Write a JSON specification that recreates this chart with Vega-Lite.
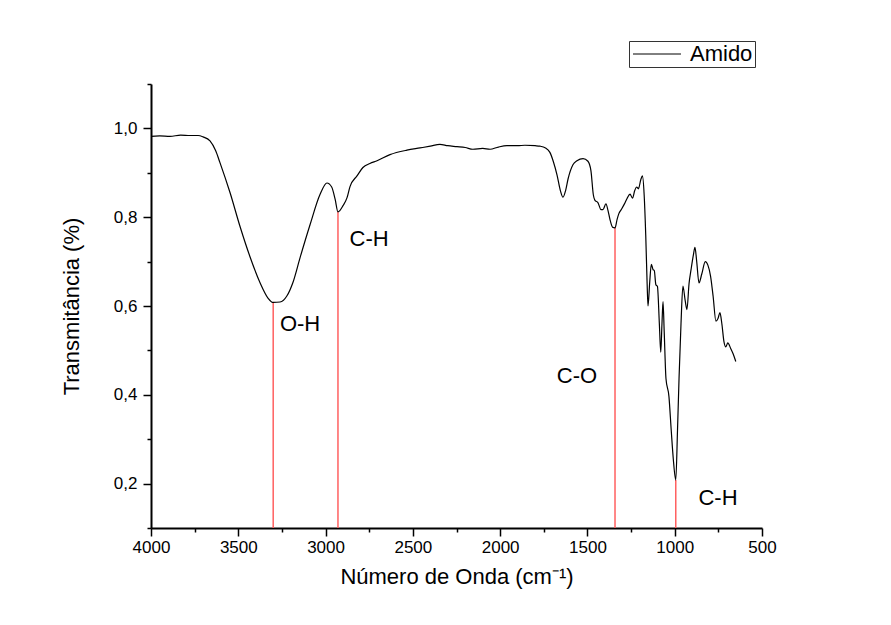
{
  "$schema": "https://vega.github.io/schema/vega-lite/v6.json",
  "width": 611,
  "height": 444,
  "autosize": {"type": "none"},
  "padding": {"left": 151, "top": 84, "right": 129, "bottom": 97},
  "background": "white",
  "config": {
    "view": {"stroke": null},
    "font": "Liberation Sans",
    "axis": {
      "domainColor": "black",
      "domainWidth": 2,
      "tickColor": "black",
      "tickWidth": 1.5,
      "grid": false,
      "labelFont": "Liberation Sans",
      "labelFontSize": 17,
      "labelColor": "black",
      "titleFont": "Liberation Sans",
      "titleFontSize": 22,
      "titleFontWeight": "normal",
      "titleColor": "black"
    }
  },
  "datasets": {
    "spectrum": [
      {"wn": 4000, "t": 0.982, "s": "Amido"},
      {"wn": 3950, "t": 0.983, "s": "Amido"},
      {"wn": 3891, "t": 0.982, "s": "Amido"},
      {"wn": 3830, "t": 0.985, "s": "Amido"},
      {"wn": 3777, "t": 0.984, "s": "Amido"},
      {"wn": 3730, "t": 0.984, "s": "Amido"},
      {"wn": 3702, "t": 0.981, "s": "Amido"},
      {"wn": 3662, "t": 0.972, "s": "Amido"},
      {"wn": 3630, "t": 0.950, "s": "Amido"},
      {"wn": 3605, "t": 0.923, "s": "Amido"},
      {"wn": 3547, "t": 0.855, "s": "Amido"},
      {"wn": 3490, "t": 0.779, "s": "Amido"},
      {"wn": 3433, "t": 0.711, "s": "Amido"},
      {"wn": 3376, "t": 0.653, "s": "Amido"},
      {"wn": 3330, "t": 0.618, "s": "Amido"},
      {"wn": 3300, "t": 0.608, "s": "Amido"},
      {"wn": 3261, "t": 0.609, "s": "Amido"},
      {"wn": 3221, "t": 0.623, "s": "Amido"},
      {"wn": 3187, "t": 0.653, "s": "Amido"},
      {"wn": 3146, "t": 0.709, "s": "Amido"},
      {"wn": 3089, "t": 0.783, "s": "Amido"},
      {"wn": 3032, "t": 0.851, "s": "Amido"},
      {"wn": 2992, "t": 0.877, "s": "Amido"},
      {"wn": 2965, "t": 0.868, "s": "Amido"},
      {"wn": 2945, "t": 0.840, "s": "Amido"},
      {"wn": 2929, "t": 0.812, "s": "Amido"},
      {"wn": 2900, "t": 0.826, "s": "Amido"},
      {"wn": 2877, "t": 0.844, "s": "Amido"},
      {"wn": 2860, "t": 0.869, "s": "Amido"},
      {"wn": 2820, "t": 0.893, "s": "Amido"},
      {"wn": 2786, "t": 0.912, "s": "Amido"},
      {"wn": 2746, "t": 0.921, "s": "Amido"},
      {"wn": 2705, "t": 0.927, "s": "Amido"},
      {"wn": 2631, "t": 0.941, "s": "Amido"},
      {"wn": 2534, "t": 0.951, "s": "Amido"},
      {"wn": 2459, "t": 0.956, "s": "Amido"},
      {"wn": 2400, "t": 0.960, "s": "Amido"},
      {"wn": 2345, "t": 0.964, "s": "Amido"},
      {"wn": 2300, "t": 0.961, "s": "Amido"},
      {"wn": 2247, "t": 0.959, "s": "Amido"},
      {"wn": 2200, "t": 0.957, "s": "Amido"},
      {"wn": 2156, "t": 0.953, "s": "Amido"},
      {"wn": 2100, "t": 0.955, "s": "Amido"},
      {"wn": 2058, "t": 0.953, "s": "Amido"},
      {"wn": 2010, "t": 0.958, "s": "Amido"},
      {"wn": 1961, "t": 0.961, "s": "Amido"},
      {"wn": 1900, "t": 0.961, "s": "Amido"},
      {"wn": 1858, "t": 0.962, "s": "Amido"},
      {"wn": 1800, "t": 0.961, "s": "Amido"},
      {"wn": 1772, "t": 0.960, "s": "Amido"},
      {"wn": 1740, "t": 0.956, "s": "Amido"},
      {"wn": 1715, "t": 0.946, "s": "Amido"},
      {"wn": 1695, "t": 0.925, "s": "Amido"},
      {"wn": 1674, "t": 0.895, "s": "Amido"},
      {"wn": 1655, "t": 0.860, "s": "Amido"},
      {"wn": 1640, "t": 0.845, "s": "Amido"},
      {"wn": 1625, "t": 0.860, "s": "Amido"},
      {"wn": 1611, "t": 0.886, "s": "Amido"},
      {"wn": 1583, "t": 0.918, "s": "Amido"},
      {"wn": 1560, "t": 0.927, "s": "Amido"},
      {"wn": 1525, "t": 0.932, "s": "Amido"},
      {"wn": 1497, "t": 0.926, "s": "Amido"},
      {"wn": 1480, "t": 0.905, "s": "Amido"},
      {"wn": 1466, "t": 0.850, "s": "Amido"},
      {"wn": 1457, "t": 0.838, "s": "Amido"},
      {"wn": 1440, "t": 0.833, "s": "Amido"},
      {"wn": 1422, "t": 0.817, "s": "Amido"},
      {"wn": 1411, "t": 0.817, "s": "Amido"},
      {"wn": 1394, "t": 0.830, "s": "Amido"},
      {"wn": 1382, "t": 0.815, "s": "Amido"},
      {"wn": 1371, "t": 0.795, "s": "Amido"},
      {"wn": 1355, "t": 0.777, "s": "Amido"},
      {"wn": 1342, "t": 0.776, "s": "Amido"},
      {"wn": 1330, "t": 0.795, "s": "Amido"},
      {"wn": 1320, "t": 0.808, "s": "Amido"},
      {"wn": 1305, "t": 0.818, "s": "Amido"},
      {"wn": 1288, "t": 0.830, "s": "Amido"},
      {"wn": 1273, "t": 0.842, "s": "Amido"},
      {"wn": 1256, "t": 0.852, "s": "Amido"},
      {"wn": 1242, "t": 0.843, "s": "Amido"},
      {"wn": 1229, "t": 0.860, "s": "Amido"},
      {"wn": 1218, "t": 0.868, "s": "Amido"},
      {"wn": 1208, "t": 0.864, "s": "Amido"},
      {"wn": 1194, "t": 0.885, "s": "Amido"},
      {"wn": 1185, "t": 0.893, "s": "Amido"},
      {"wn": 1175, "t": 0.850, "s": "Amido"},
      {"wn": 1166, "t": 0.760, "s": "Amido"},
      {"wn": 1158, "t": 0.650, "s": "Amido"},
      {"wn": 1153, "t": 0.600, "s": "Amido"},
      {"wn": 1143, "t": 0.655, "s": "Amido"},
      {"wn": 1134, "t": 0.694, "s": "Amido"},
      {"wn": 1124, "t": 0.682, "s": "Amido"},
      {"wn": 1117, "t": 0.680, "s": "Amido"},
      {"wn": 1108, "t": 0.648, "s": "Amido"},
      {"wn": 1099, "t": 0.644, "s": "Amido"},
      {"wn": 1088, "t": 0.560, "s": "Amido"},
      {"wn": 1080, "t": 0.496, "s": "Amido"},
      {"wn": 1073, "t": 0.560, "s": "Amido"},
      {"wn": 1067, "t": 0.610, "s": "Amido"},
      {"wn": 1060, "t": 0.540, "s": "Amido"},
      {"wn": 1050, "t": 0.436, "s": "Amido"},
      {"wn": 1033, "t": 0.396, "s": "Amido"},
      {"wn": 1020, "t": 0.320, "s": "Amido"},
      {"wn": 1008, "t": 0.255, "s": "Amido"},
      {"wn": 994, "t": 0.208, "s": "Amido"},
      {"wn": 984, "t": 0.320, "s": "Amido"},
      {"wn": 975, "t": 0.440, "s": "Amido"},
      {"wn": 964, "t": 0.560, "s": "Amido"},
      {"wn": 953, "t": 0.645, "s": "Amido"},
      {"wn": 940, "t": 0.612, "s": "Amido"},
      {"wn": 930, "t": 0.592, "s": "Amido"},
      {"wn": 918, "t": 0.650, "s": "Amido"},
      {"wn": 906, "t": 0.683, "s": "Amido"},
      {"wn": 893, "t": 0.715, "s": "Amido"},
      {"wn": 884, "t": 0.732, "s": "Amido"},
      {"wn": 874, "t": 0.700, "s": "Amido"},
      {"wn": 861, "t": 0.652, "s": "Amido"},
      {"wn": 845, "t": 0.672, "s": "Amido"},
      {"wn": 825, "t": 0.700, "s": "Amido"},
      {"wn": 810, "t": 0.692, "s": "Amido"},
      {"wn": 795, "t": 0.668, "s": "Amido"},
      {"wn": 780, "t": 0.622, "s": "Amido"},
      {"wn": 764, "t": 0.566, "s": "Amido"},
      {"wn": 752, "t": 0.572, "s": "Amido"},
      {"wn": 741, "t": 0.585, "s": "Amido"},
      {"wn": 730, "t": 0.560, "s": "Amido"},
      {"wn": 718, "t": 0.520, "s": "Amido"},
      {"wn": 707, "t": 0.508, "s": "Amido"},
      {"wn": 696, "t": 0.517, "s": "Amido"},
      {"wn": 680, "t": 0.505, "s": "Amido"},
      {"wn": 665, "t": 0.492, "s": "Amido"},
      {"wn": 650, "t": 0.475, "s": "Amido"}
    ],
    "bands": [
      {"wn": 3300, "t": 0.608},
      {"wn": 2929, "t": 0.812},
      {"wn": 1342, "t": 0.776},
      {"wn": 994, "t": 0.208}
    ],
    "labels": [
      {"wn": 3146, "t": 0.560, "label": "O-H"},
      {"wn": 2751, "t": 0.752, "label": "C-H"},
      {"wn": 1560, "t": 0.443, "label": "C-O"},
      {"wn": 752, "t": 0.168, "label": "C-H"}
    ]
  },
  "encoding": {
    "x": {
      "field": "wn",
      "type": "quantitative",
      "scale": {"domain": [500, 4000], "reverse": true, "nice": false, "zero": false},
      "axis": {
        "title": "Número de Onda (cm⁻¹)",
        "values": [500, 750, 1000, 1250, 1500, 1750, 2000, 2250, 2500, 2750, 3000, 3250, 3500, 3750, 4000],
        "labelExpr": "datum.value % 500 === 0 ? datum.value : ''",
        "tickSize": {"condition": {"test": "datum.value % 500 !== 0", "value": 4}, "value": 8},
        "labelPadding": 3,
        "titlePadding": 11,
        "labelFlush": false,
        "labelOverlap": false
      }
    },
    "y": {
      "field": "t",
      "type": "quantitative",
      "scale": {"domain": [0.1, 1.1], "nice": false, "zero": false},
      "axis": {
        "title": "Transmitância (%)",
        "values": [0.1, 0.2, 0.3, 0.4, 0.5, 0.6, 0.7, 0.8, 0.9, 1.0, 1.1],
        "labelExpr": "round(datum.value * 10) % 2 === 0 ? replace(format(datum.value, '.1f'), '.', ',') : ''",
        "tickSize": {"condition": {"test": "round(datum.value * 10) % 2 === 1", "value": 4}, "value": 8},
        "labelPadding": 6,
        "titlePadding": 30,
        "labelFlush": false,
        "labelOverlap": false
      }
    }
  },
  "layer": [
    {
      "data": {"name": "bands"},
      "mark": {"type": "rule", "color": "#ff6060", "strokeWidth": 1.5},
      "encoding": {"y2": {"datum": 0.1}}
    },
    {
      "data": {"name": "spectrum"},
      "mark": {"type": "line", "strokeWidth": 1.2, "interpolate": "monotone"},
      "encoding": {
        "order": {"field": "wn", "sort": "descending"},
        "color": {
          "field": "s",
          "type": "nominal",
          "scale": {"range": ["black"]},
          "legend": {
            "title": null,
            "orient": "none",
            "legendX": 478,
            "legendY": -43,
            "symbolType": "M-1,0H4.33",
            "symbolSize": 324,
            "symbolStrokeWidth": 1,
            "labelFontSize": 22,
            "labelFont": "Liberation Sans",
            "labelColor": "black",
            "strokeColor": "#333",
            "padding": 2,
            "labelOffset": 37
          }
        }
      }
    },
    {
      "data": {"name": "labels"},
      "mark": {"type": "text", "fontSize": 22, "font": "Liberation Sans", "color": "black", "align": "center", "baseline": "middle"},
      "encoding": {"text": {"field": "label"}}
    }
  ]
}
